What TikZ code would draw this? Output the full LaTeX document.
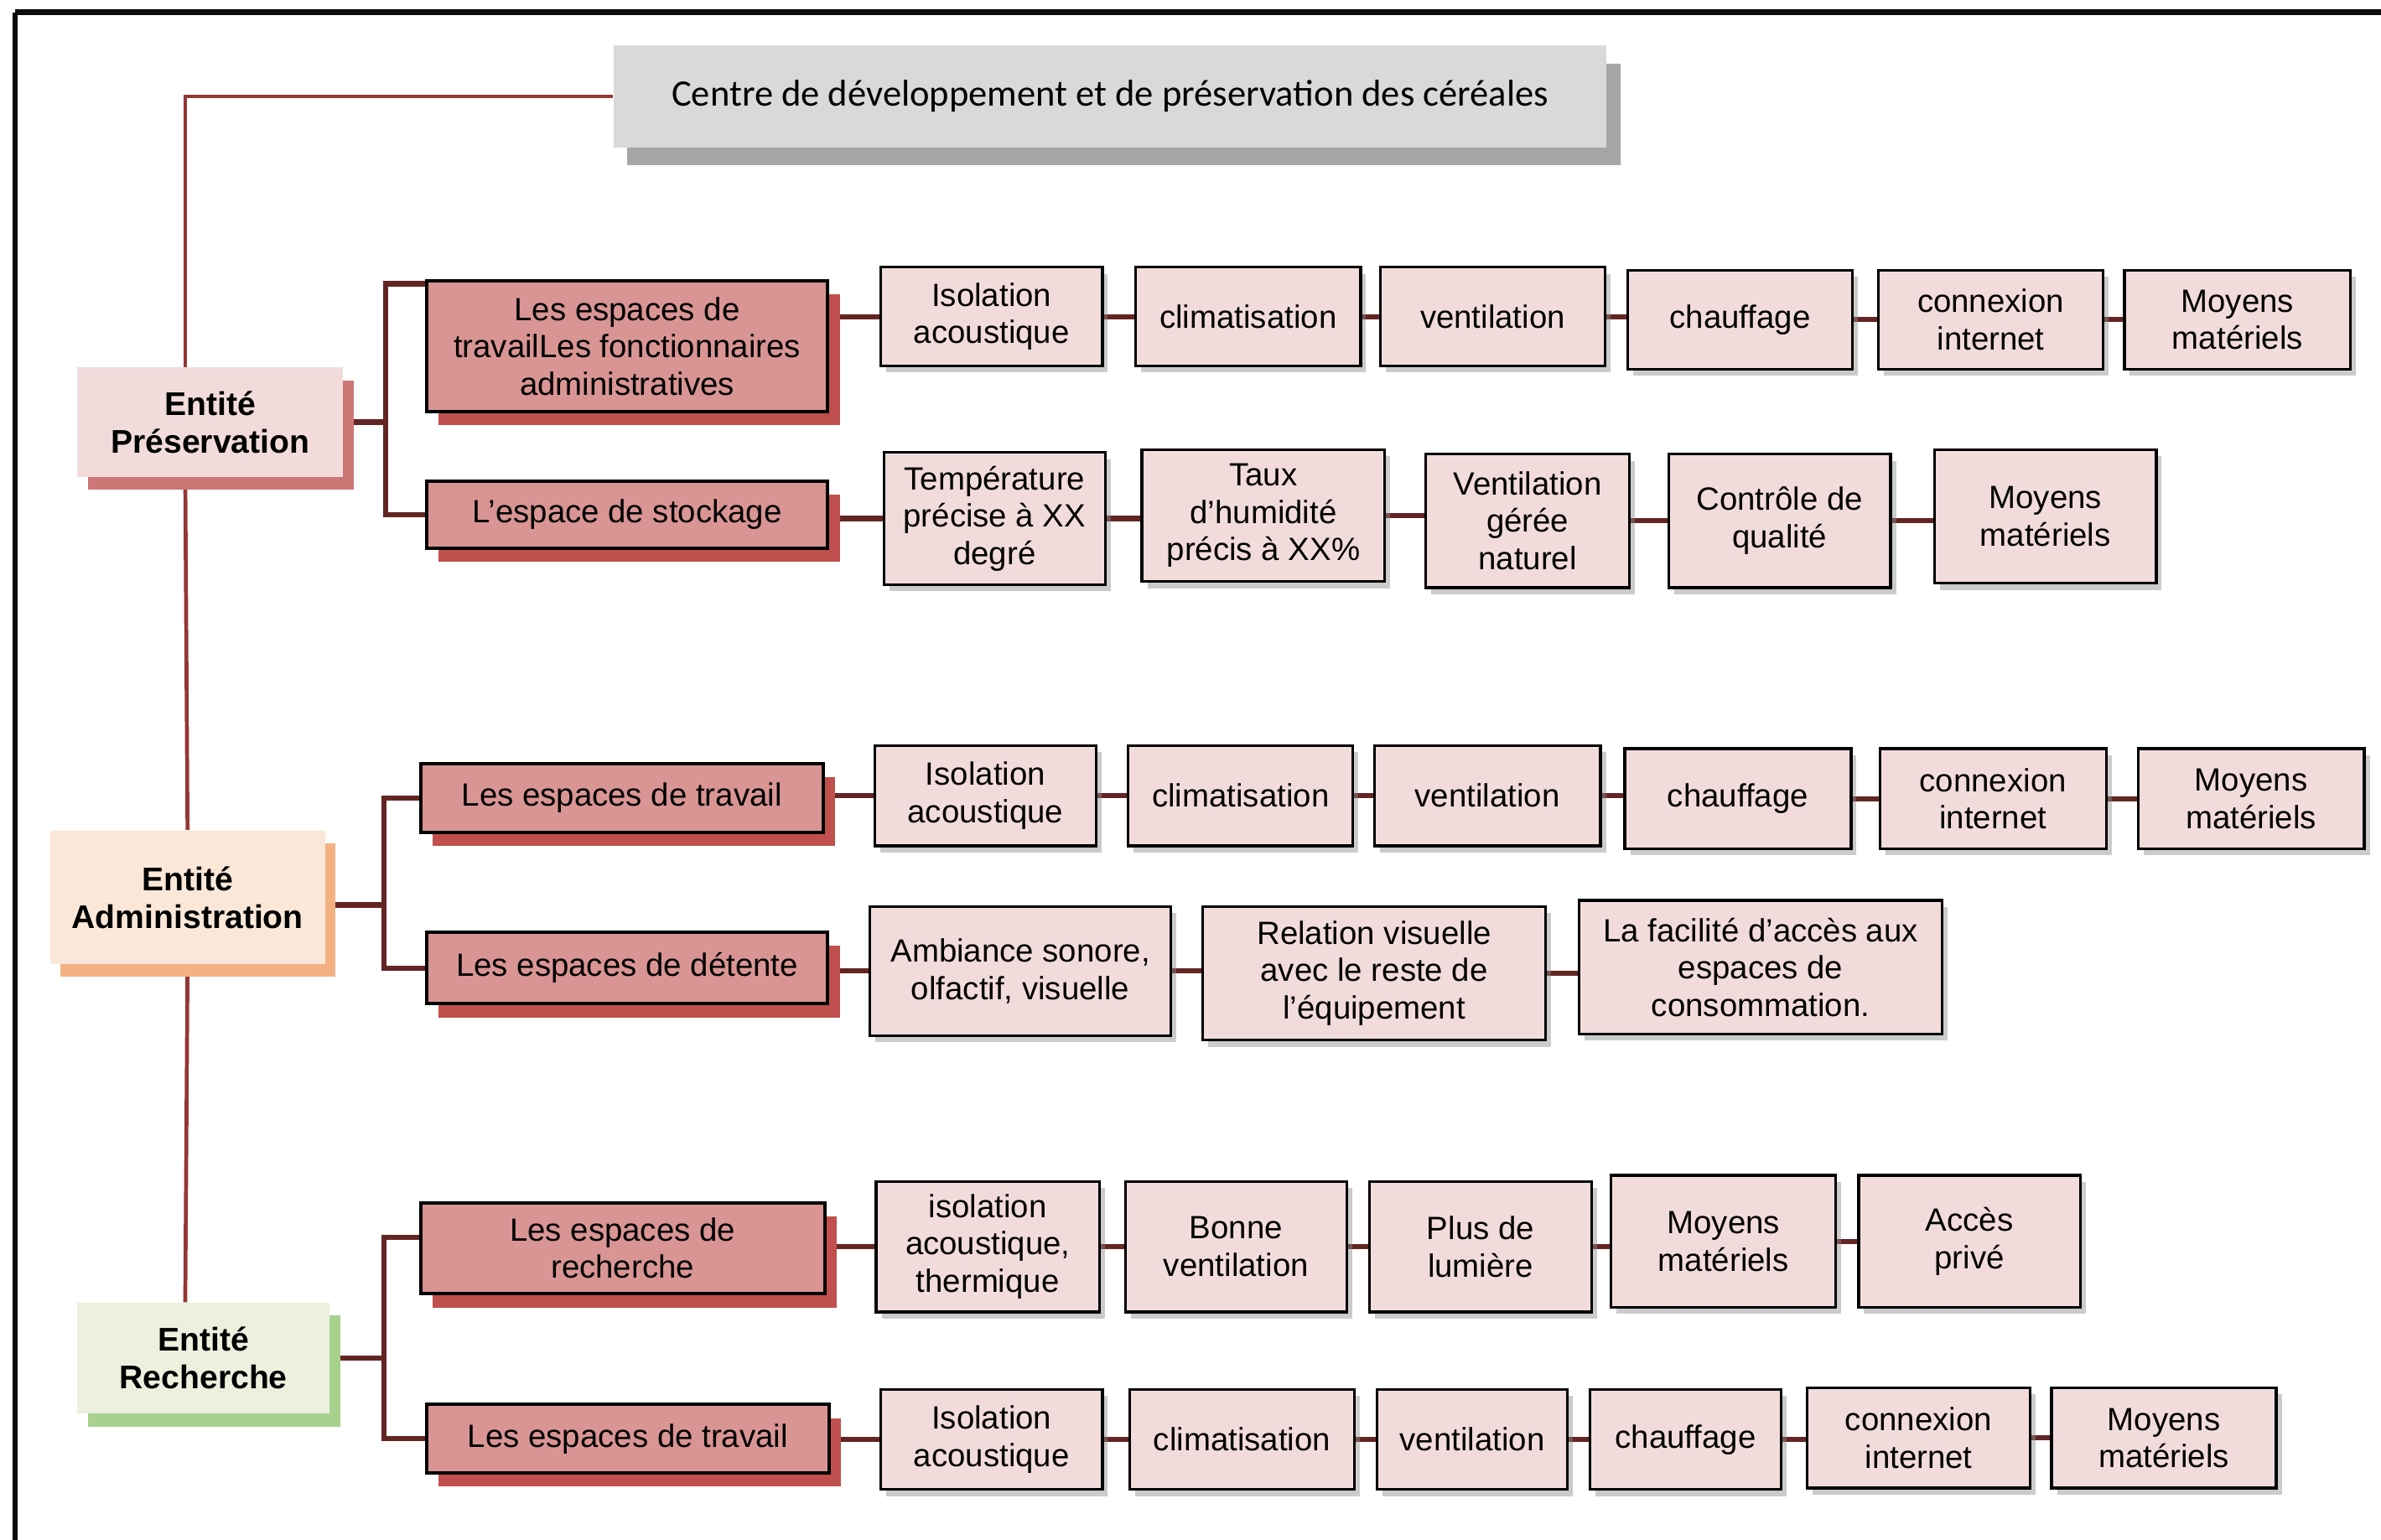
\documentclass[tikz,border=0pt]{standalone}
\usepackage{fontspec}
\setmainfont{Liberation Sans}
\newfontfamily\titlefont{Carlito}
\usetikzlibrary{shadows,backgrounds}
\definecolor{titlegray}{HTML}{D9D9D9}
\definecolor{titleshade}{HTML}{A6A6A6}
\definecolor{presfill}{HTML}{F2DCDB}
\definecolor{presshade}{HTML}{CD7676}
\definecolor{adminfill}{HTML}{FBE7D8}
\definecolor{adminshade}{HTML}{F4B183}
\definecolor{rechfill}{HTML}{EBF1DE}
\definecolor{rechshade}{HTML}{A9D18E}
\definecolor{spacefill}{HTML}{D99594}
\definecolor{spaceshade}{HTML}{C0504D}
\definecolor{critfill}{HTML}{F2DCDB}
\definecolor{trunkred}{HTML}{953735}
\definecolor{linkred}{HTML}{632523}
\tikzset{
  ttl/.style={fill=titlegray,inner sep=0pt,font=\titlefont\fontsize{12.3}{14}\selectfont,
    general shadow={fill=titleshade,shadow xshift=4.5pt,shadow yshift=-6pt}},
  entity/.style 2 args={fill=#1,inner sep=0pt,align=center,
    font=\fontsize{10.8}{12.4}\selectfont\bfseries,
    general shadow={fill=#2,shadow xshift=3.5pt,shadow yshift=-4.2pt}},
  espace/.style={draw=black,line width=1.1pt,fill=spacefill,inner sep=0pt,align=center,
    general shadow={fill=spaceshade,shadow xshift=4pt,shadow yshift=-4.5pt}},
  crit/.style={draw=black,line width=0.9pt,fill=critfill,inner sep=0pt,align=center,
    drop shadow={shadow xshift=1.8pt,shadow yshift=-2.2pt,fill=black!45,opacity=.45}},
  trunk/.style={draw=trunkred,line width=1.3pt},
  link/.style={draw=linkred,line width=1.7pt},
  frame/.style={draw=black!95,line width=1.7pt}
}
% box from its corners (reference pixels)
\newcommand{\cbox}[7]{\node[#1,minimum width={(#5-#3)*0.5pt},minimum height={(#6-#4)*0.5pt}]
  (#2) at ({(#3+#5)/2},{(#4+#6)/2}) {#7};}

\begin{document}
\begin{tikzpicture}[x=0.5pt,y=-0.5pt,font=\fontsize{10.6}{12.3}\selectfont]
\useasboundingbox (0,0) rectangle (1568,1014);
\draw[frame] (10,8) -- (1568,8);
\draw[frame] (10,8) -- (10,1014);
% title and entities
\cbox{ttl}{title}{404}{30}{1058}{97}{Centre de développement et de préservation des céréales}
\cbox{entity={presfill}{presshade}}{ep}{51}{242}{226}{314}{Entité\\Préservation}
\cbox{entity={adminfill}{adminshade}}{ea}{33}{547}{214}{635}{Entité\\Administration}
\cbox{entity={rechfill}{rechshade}}{er}{51}{858}{217}{931}{Entité\\Recherche}
% espaces
\cbox{espace}{s11}{281}{185}{545}{271}{Les espaces de\\travailLes fonctionnaires\\administratives}
\cbox{espace}{s12}{281}{317}{545}{361}{L’espace de stockage}
\cbox{espace}{s21}{277}{503}{542}{548}{Les espaces de travail}
\cbox{espace}{s22}{281}{614}{545}{661}{Les espaces de détente}
\cbox{espace}{s31}{277}{792}{543}{852}{Les espaces de\\recherche}
\cbox{espace}{s32}{281}{925}{546}{970}{Les espaces de travail}
% preservation
\cbox{crit}{p1a}{580}{176}{726}{241}{Isolation\\acoustique}
\cbox{crit}{p1b}{748}{176}{896}{241}{climatisation}
\cbox{crit}{p1c}{909}{176}{1057}{241}{ventilation}
\cbox{crit}{p1d}{1072}{178}{1220}{243}{chauffage}
\cbox{crit}{p1e}{1237}{178}{1385}{243}{connexion\\internet}
\cbox{crit}{p1f}{1399}{178}{1548}{243}{Moyens\\matériels}
\cbox{crit}{p2a}{582}{298}{728}{385}{Température\\précise à XX\\degré}
\cbox{crit}{p2b}{752}{296}{912}{383}{Taux\\d’humidité\\précis à XX\%}
\cbox{crit}{p2c}{939}{299}{1073}{387}{Ventilation\\gérée\\naturel}
\cbox{crit}{p2d}{1099}{299}{1245}{387}{Contrôle de\\qualité}
\cbox{crit}{p2e}{1274}{296}{1420}{384}{Moyens\\matériels}
% administration
\cbox{crit}{a1a}{576}{491}{722}{557}{Isolation\\acoustique}
\cbox{crit}{a1b}{743}{491}{891}{557}{climatisation}
\cbox{crit}{a1c}{905}{491}{1054}{557}{ventilation}
\cbox{crit}{a1d}{1070}{493}{1219}{559}{chauffage}
\cbox{crit}{a1e}{1238}{493}{1387}{559}{connexion\\internet}
\cbox{crit}{a1f}{1408}{493}{1557}{559}{Moyens\\matériels}
\cbox{crit}{a2a}{573}{597}{771}{682}{Ambiance sonore,\\olfactif, visuelle}
\cbox{crit}{a2b}{792}{597}{1018}{685}{Relation visuelle\\avec le reste de\\l’équipement}
\cbox{crit}{a2c}{1040}{593}{1279}{681}{La facilité d’accès aux\\espaces de\\consommation.}
% recherche
\cbox{crit}{r1a}{577}{778}{724}{864}{isolation\\acoustique,\\thermique}
\cbox{crit}{r1b}{741}{778}{887}{864}{Bonne\\ventilation}
\cbox{crit}{r1c}{902}{778}{1048}{864}{Plus de\\lumière}
\cbox{crit}{r1d}{1061}{774}{1209}{861}{Moyens\\matériels}
\cbox{crit}{r1e}{1224}{774}{1370}{861}{Accès\\privé}
\cbox{crit}{r2a}{580}{915}{726}{981}{Isolation\\acoustique}
\cbox{crit}{r2b}{744}{915}{892}{981}{climatisation}
\cbox{crit}{r2c}{907}{915}{1032}{981}{ventilation}
\cbox{crit}{r2d}{1047}{915}{1173}{981}{chauffage}
\cbox{crit}{r2e}{1190}{914}{1337}{980}{connexion\\internet}
\cbox{crit}{r2f}{1351}{914}{1499}{980}{Moyens\\matériels}
% connectors
\begin{scope}[on background layer]
\draw[trunk] (title.west) -| ([xshift=-8.25pt]ep.north);
\draw[trunk] ([xshift=-8.25pt]ep.south) -- (ea.north);
\draw[trunk] (ea.south) -- ([xshift=-6pt]er.north);
\draw[link] ([yshift=-1.5pt]s11.north west) -- ++(-26,0) coordinate (bp) |- (s12.west);
\draw[link] (s21.west) -- ++(-23,0) coordinate (ba) |- (s22.west);
\draw[link] ([yshift=3.5pt]s31.west) -- ++(-23,0) coordinate (br) |- (s32.west);
\draw[link] (ep.east) -- (ep.east -| bp);
\draw[link] ([yshift=-2.5pt]ea.east) -- ([yshift=-2.5pt]ea.east -| ba);
\draw[link] (er.east) -- (er.east -| br);
\foreach \s/\c in {s11/p1a,s12/p2a,s21/a1a,s22/a2a,s31/r1a,s32/r2a}
  \draw[link] (\c.west -| \s.east) -- (\c.west);
\foreach \a/\b in {p1a/p1b,p1b/p1c,p1c/p1d,p1d/p1e,p1e/p1f,p2a/p2b,p2b/p2c,p2c/p2d,p2d/p2e,
    a1a/a1b,a1b/a1c,a1c/a1d,a1d/a1e,a1e/a1f,a2a/a2b,a2b/a2c,
    r1a/r1b,r1b/r1c,r1c/r1d,r1d/r1e,r2a/r2b,r2b/r2c,r2c/r2d,r2d/r2e,r2e/r2f}
  \draw[link] (\a.east) -- (\a.east -| \b.west);
\end{scope}
\end{tikzpicture}
\end{document}
